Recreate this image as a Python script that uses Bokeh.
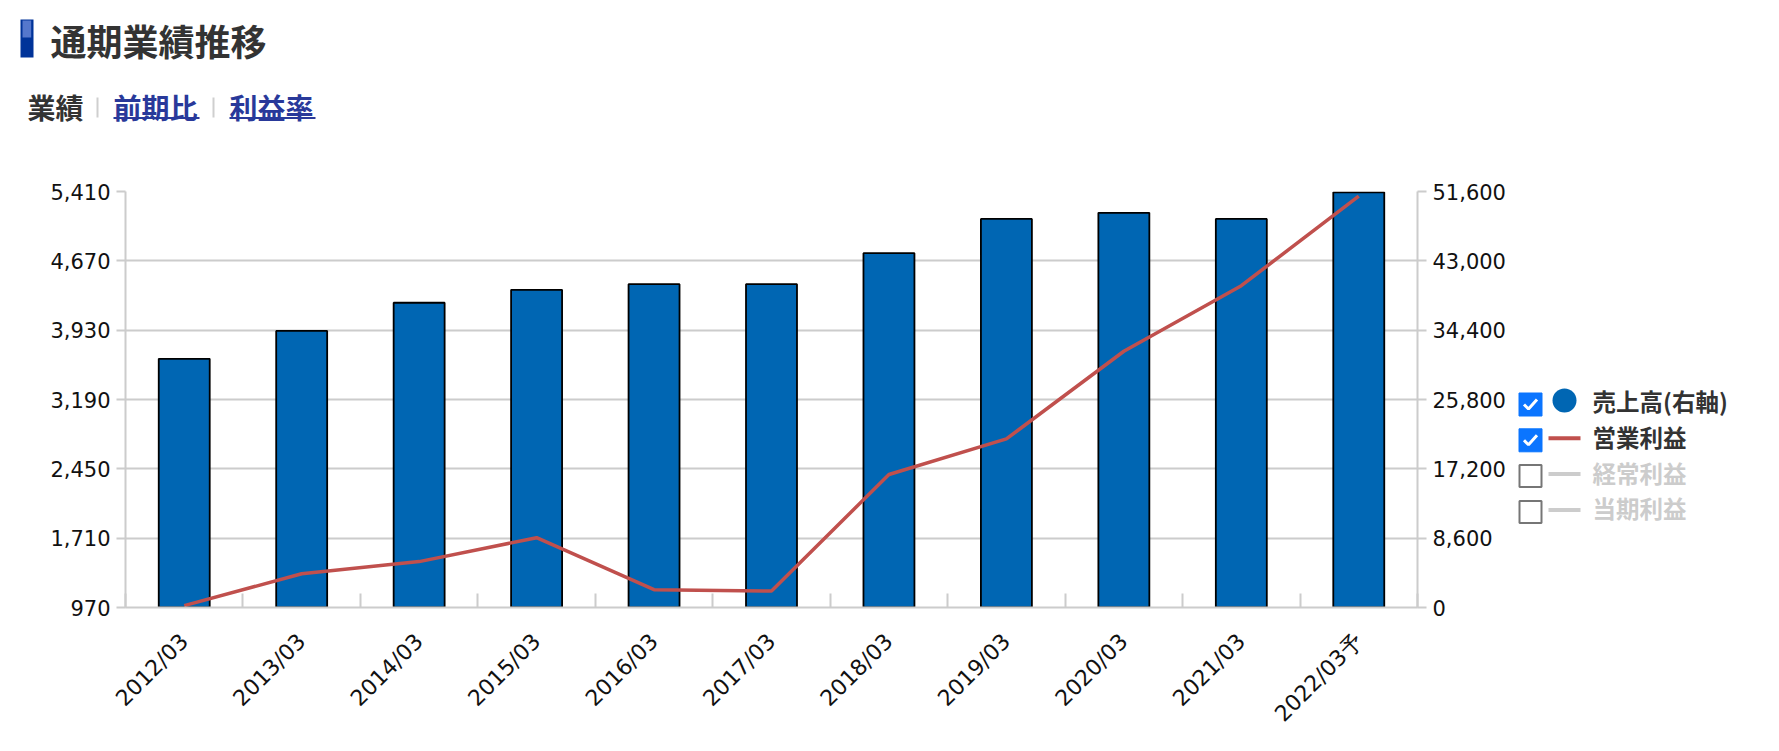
from bokeh.plotting import figure
from bokeh.models import Range1d, LinearAxis, FixedTicker, NumeralTickFormatter
from bokeh.layouts import column, row
from bokeh.core.properties import value
from bokeh.embed import file_html
from bokeh.resources import INLINE
import math

# ---------------- data ----------------
categories = ["2012/03", "2013/03", "2014/03", "2015/03", "2016/03", "2017/03",
              "2018/03", "2019/03", "2020/03", "2021/03", "2022/03予"]
sales = [30850, 34300, 37800, 39400, 40100, 40100, 43950, 48200, 48950, 48200, 51500]  # 売上高(右軸)
op_profit = [990, 1330, 1460, 1715, 1160, 1145, 2390, 2770, 3705, 4405, 5360]         # 営業利益
left_ticks = [970, 1710, 2450, 3190, 3930, 4670, 5410]
right_ticks = [0, 8600, 17200, 25800, 34400, 43000, 51600]
legend_labels = ["売上高(右軸)", "営業利益", "経常利益", "当期利益"]
legend_on = [True, True, False, False]
title_text = "通期業績推移"
tab_labels = ["業績", "前期比", "利益率"]

AX_FONT = "DejaVu Sans"
JP_FONT = value("Noto Sans CJK JP")
GRID = "#cccccc"
BAR = "#0066b3"
RED = "#c0504d"

TOTAL_W = 1775
HEAD_H = 138
MAIN_W = 1517
MAIN_H = 604
MB_TOP, MB_BOTTOM = 53, 135

# ---------------- header ----------------
hdr = figure(width=TOTAL_W, height=HEAD_H, x_range=Range1d(0, TOTAL_W), y_range=Range1d(HEAD_H, 0),
             output_backend="svg", toolbar_location=None, min_border=0,
             x_axis_type=None, y_axis_type=None, outline_line_color=None)
hdr.grid.visible = False
hdr.quad(left=[20], right=[33], top=[19], bottom=[57], fill_color="#003399", line_color=None)
hdr.quad(left=[22], right=[30.7], top=[20], bottom=[37], fill_color="#5577cc", line_color=None)
hdr.text(x=[50], y=[39], text=[title_text], text_font=JP_FONT, text_font_style="bold",
         text_font_size="36px", text_color="#333333", text_baseline="middle", text_align="left")
tab_x = [27, 113, 229]
tab_colors = ["#333333", "#29399a", "#29399a"]
hdr.text(x=tab_x, y=[106] * 3, text=tab_labels, text_font=JP_FONT, text_font_style="bold",
         text_font_size="28px", text_color=tab_colors, text_baseline="middle", text_align="left")
hdr.segment(x0=[113, 229], y0=[117.5, 117.5], x1=[199, 315], y1=[117.5, 117.5],
            line_color="#29399a", line_width=2)
hdr.segment(x0=[97, 213], y0=[97, 97], x1=[97, 213], y1=[117, 117], line_color="#cfcfcf", line_width=2)

# ---------------- main chart ----------------
n = len(categories)
idx = list(range(n))
p = figure(width=MAIN_W, height=MAIN_H, x_range=Range1d(-0.5, n - 0.5),
           y_range=Range1d(left_ticks[0], left_ticks[-1]),
           output_backend="svg", toolbar_location=None,
           min_border_left=125, min_border_right=100, min_border_top=MB_TOP, min_border_bottom=MB_BOTTOM)
p.outline_line_color = None
p.extra_y_ranges = {"right": Range1d(right_ticks[0], right_ticks[-1])}

p.xgrid.visible = False
p.ygrid.grid_line_color = GRID
p.ygrid.grid_line_width = 2

xa = p.xaxis[0]
xa.ticker = FixedTicker(ticks=idx, minor_ticks=[i - 0.5 for i in range(n + 1)])
xa.major_label_overrides = {i: c for i, c in enumerate(categories)}
xa.major_label_orientation = math.pi / 4
xa.major_tick_line_color = None
xa.major_tick_out = 0
xa.major_tick_in = 0
xa.minor_tick_in = 14
xa.minor_tick_out = 0
xa.minor_tick_line_color = GRID
xa.minor_tick_line_width = 2
xa.axis_line_color = GRID
xa.axis_line_width = 2
xa.major_label_standoff = 30
xa.major_label_text_font = AX_FONT
xa.major_label_text_font_size = "22px"
xa.major_label_text_color = "#111111"

ya = p.yaxis[0]
ya.ticker = FixedTicker(ticks=left_ticks)
ya.formatter = NumeralTickFormatter(format="0,0")

ra = LinearAxis(y_range_name="right", ticker=FixedTicker(ticks=right_ticks),
                formatter=NumeralTickFormatter(format="0,0"))
p.add_layout(ra, "right")

for ax in (ya, ra):
    ax.major_tick_out = 9
    ax.major_tick_in = 0
    ax.minor_tick_line_color = None
    ax.major_tick_line_color = GRID
    ax.major_tick_line_width = 2
    ax.axis_line_color = GRID
    ax.axis_line_width = 2
    ax.major_label_standoff = 6
    ax.major_label_text_font = AX_FONT
    ax.major_label_text_font_size = "21px"
    ax.major_label_text_color = "#111111"

p.vbar(x=idx, top=sales, bottom=0, width=0.434, y_range_name="right",
       fill_color=BAR, line_color="black", line_width=1.8)
p.line(x=idx, y=op_profit, line_color=RED, line_width=3.5)

# ---------------- legend (frame matches the chart frame vertically: page y 191..607) ----------------
LW = TOTAL_W - MAIN_W
lg = figure(width=LW, height=MAIN_H, x_range=Range1d(MAIN_W, TOTAL_W), y_range=Range1d(607, 191),
            output_backend="svg", toolbar_location=None,
            min_border_left=0, min_border_right=0, min_border_top=MB_TOP, min_border_bottom=MB_BOTTOM,
            x_axis_type=None, y_axis_type=None, outline_line_color=None)
lg.grid.visible = False
rows_c = [404 + 35.8 * i for i in range(4)]
on_c = [c for c, o in zip(rows_c, legend_on) if o]
off_c = [c for c, o in zip(rows_c, legend_on) if not o]
lg.quad(left=[1518.5] * len(on_c), right=[1541.5] * len(on_c), top=[c - 11.5 for c in on_c],
        bottom=[c + 11.5 for c in on_c], fill_color="#0b75ff", line_color="#0b75ff", line_width=1)
lg.quad(left=[1519] * len(off_c), right=[1541] * len(off_c), top=[c - 11 for c in off_c],
        bottom=[c + 11 for c in off_c], fill_color="white", line_color="#767676", line_width=2)
lg.multi_line(xs=[[1523.5, 1528, 1536.5] for _ in on_c], ys=[[c, c + 4.5, c - 5] for c in on_c],
              line_color="white", line_width=3)
lg.scatter(x=[1564], y=[rows_c[0] - 4], size=24, marker="circle", fill_color=BAR, line_color=None)
line_cols = [RED, "#cccccc", "#cccccc"]
lg.segment(x0=[1548] * 3, x1=[1580] * 3, y0=[c - 2 for c in rows_c[1:]], y1=[c - 2 for c in rows_c[1:]],
           line_color=line_cols, line_width=4)
lg.text(x=[1592] * 4, y=[c - 3.5 for c in rows_c], text=legend_labels, text_font=JP_FONT,
        text_font_style="bold", text_font_size="23.5px",
        text_color=["#333333" if o else "#cccccc" for o in legend_on],
        text_baseline="middle", text_align="left")

layout = column(hdr, row(p, lg))
open("out.html", "w").write(file_html(layout, INLINE))
